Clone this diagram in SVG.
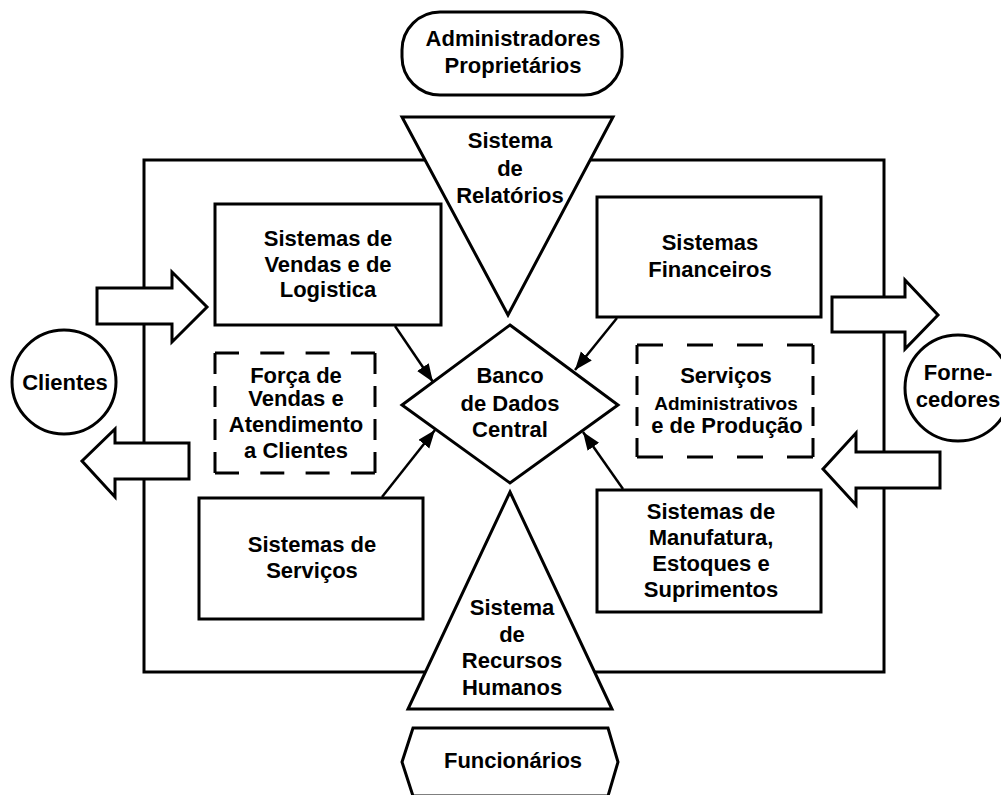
<svg xmlns="http://www.w3.org/2000/svg" width="1001" height="795" viewBox="0 0 1001 795">
<style>
.s{fill:#fff;stroke:#000;stroke-width:3;stroke-linejoin:miter}
.d{fill:none;stroke:#000;stroke-width:3}
.t{font-family:"Liberation Sans",Arial,sans-serif;font-weight:bold;font-size:22px;fill:#000;text-anchor:middle}
.c{stroke:#000;stroke-width:2.5;fill:none}
</style>
<defs>
<marker id="ah" markerUnits="userSpaceOnUse" markerWidth="20" markerHeight="16" refX="18" refY="7" orient="auto">
<path d="M0,0 L18,7 L0,14 Z" fill="#000"/>
</marker>
</defs>
<rect width="1001" height="795" fill="#fff"/>
<g id="frame"><rect x="144" y="160" width="740" height="512" class="s" fill="none"/></g>

<g id="arrow-in-clientes"><path class="s" d="M97,288 H172 V272 L207,307 L172,342 V324 H97 Z"/></g>
<g id="arrow-out-clientes"><path class="s" d="M189,443 H115 V429 L82,461 L115,497 V479 H189 Z"/></g>
<g id="arrow-out-fornecedores"><path class="s" d="M832,297 H905 V280 L938,315 L905,349 V332 H832 Z"/></g>
<g id="arrow-in-fornecedores"><path class="s" d="M940,452 H856 V433 L823,469 L856,505 V488 H940 Z"/></g>

<g id="administradores"><rect class="s" x="402" y="12" width="220" height="83" rx="38"/>
<text class="t" x="513" y="46">Administradores</text><text class="t" x="513" y="73">Proprietários</text></g>

<g id="sistema-relatorios"><polygon class="s" points="402,117 613,117 508,315"/>
<text class="t" x="510" y="148">Sistema</text><text class="t" x="510" y="176">de</text><text class="t" x="510" y="203">Relatórios</text></g>

<g id="vendas"><rect class="s" x="215" y="204" width="226" height="121"/>
<text class="t" x="328" y="246">Sistemas de</text><text class="t" x="328" y="272">Vendas e de</text><text class="t" x="328" y="297">Logistica</text></g>

<g id="financeiros"><rect class="s" x="597" y="197" width="224" height="120"/>
<text class="t" x="710" y="250">Sistemas</text><text class="t" x="710" y="277">Financeiros</text></g>

<g id="forca-vendas">
<path class="d" d="M215,353 H375" stroke-dasharray="24 21.3"/>
<path class="d" d="M215,473 H375" stroke-dasharray="24 21.3"/>
<path class="d" d="M215,353 V473" stroke-dasharray="21 12"/>
<path class="d" d="M375,353 V473" stroke-dasharray="21 12"/>
<text class="t" x="296" y="383">Força de</text><text class="t" x="296" y="406">Vendas e</text><text class="t" x="296" y="432">Atendimento</text><text class="t" x="296" y="458">a Clientes</text></g>

<g id="servicos-adm">
<path class="d" d="M637,345 H813" stroke-dasharray="26 24"/>
<path class="d" d="M637,457 H813" stroke-dasharray="26 24"/>
<path class="d" d="M637,345 V457" stroke-dasharray="19 12"/>
<path class="d" d="M813,345 V457" stroke-dasharray="19 12"/>
<text class="t" x="726" y="383">Serviços</text><text class="t" x="726" y="410" style="font-size:19px">Administrativos</text><text class="t" x="727" y="433">e de Produção</text></g>

<g id="banco"><polygon class="s" points="510,325 618,405 510,483 402,405"/>
<text class="t" x="510" y="383">Banco</text><text class="t" x="510" y="411">de Dados</text><text class="t" x="510" y="437">Central</text></g>

<g id="servicos"><rect class="s" x="199" y="498" width="224" height="121"/>
<text class="t" x="312" y="552">Sistemas de</text><text class="t" x="312" y="578">Serviços</text></g>

<g id="manufatura"><rect class="s" x="597" y="490" width="224" height="122"/>
<text class="t" x="711" y="519">Sistemas de</text><text class="t" x="711" y="545">Manufatura,</text><text class="t" x="711" y="571">Estoques e</text><text class="t" x="711" y="597">Suprimentos</text></g>

<g id="recursos-humanos"><polygon class="s" points="510,492 612,709 408,709"/>
<text class="t" x="512" y="615">Sistema</text><text class="t" x="512" y="642">de</text><text class="t" x="512" y="668">Recursos</text><text class="t" x="512" y="695">Humanos</text></g>

<g id="funcionarios"><polygon class="s" points="413,728 608,728 618,762 608,796 413,796 402,762"/>
<text class="t" x="513" y="768">Funcionários</text></g>

<g id="clientes"><circle class="s" cx="64" cy="382" r="52"/><text class="t" x="65" y="390">Clientes</text></g>
<g id="fornecedores"><circle class="s" cx="958" cy="388" r="53"/><text class="t" x="958" y="380">Forne-</text><text class="t" x="958" y="407">cedores</text></g>

<g id="connectors">
<line class="c" x1="395" y1="326" x2="433" y2="382" marker-end="url(#ah)"/>
<line class="c" x1="617" y1="318" x2="575" y2="370" marker-end="url(#ah)"/>
<line class="c" x1="382" y1="497" x2="435" y2="430" marker-end="url(#ah)"/>
<line class="c" x1="623" y1="489" x2="583" y2="432" marker-end="url(#ah)"/>
</g>
</svg>
